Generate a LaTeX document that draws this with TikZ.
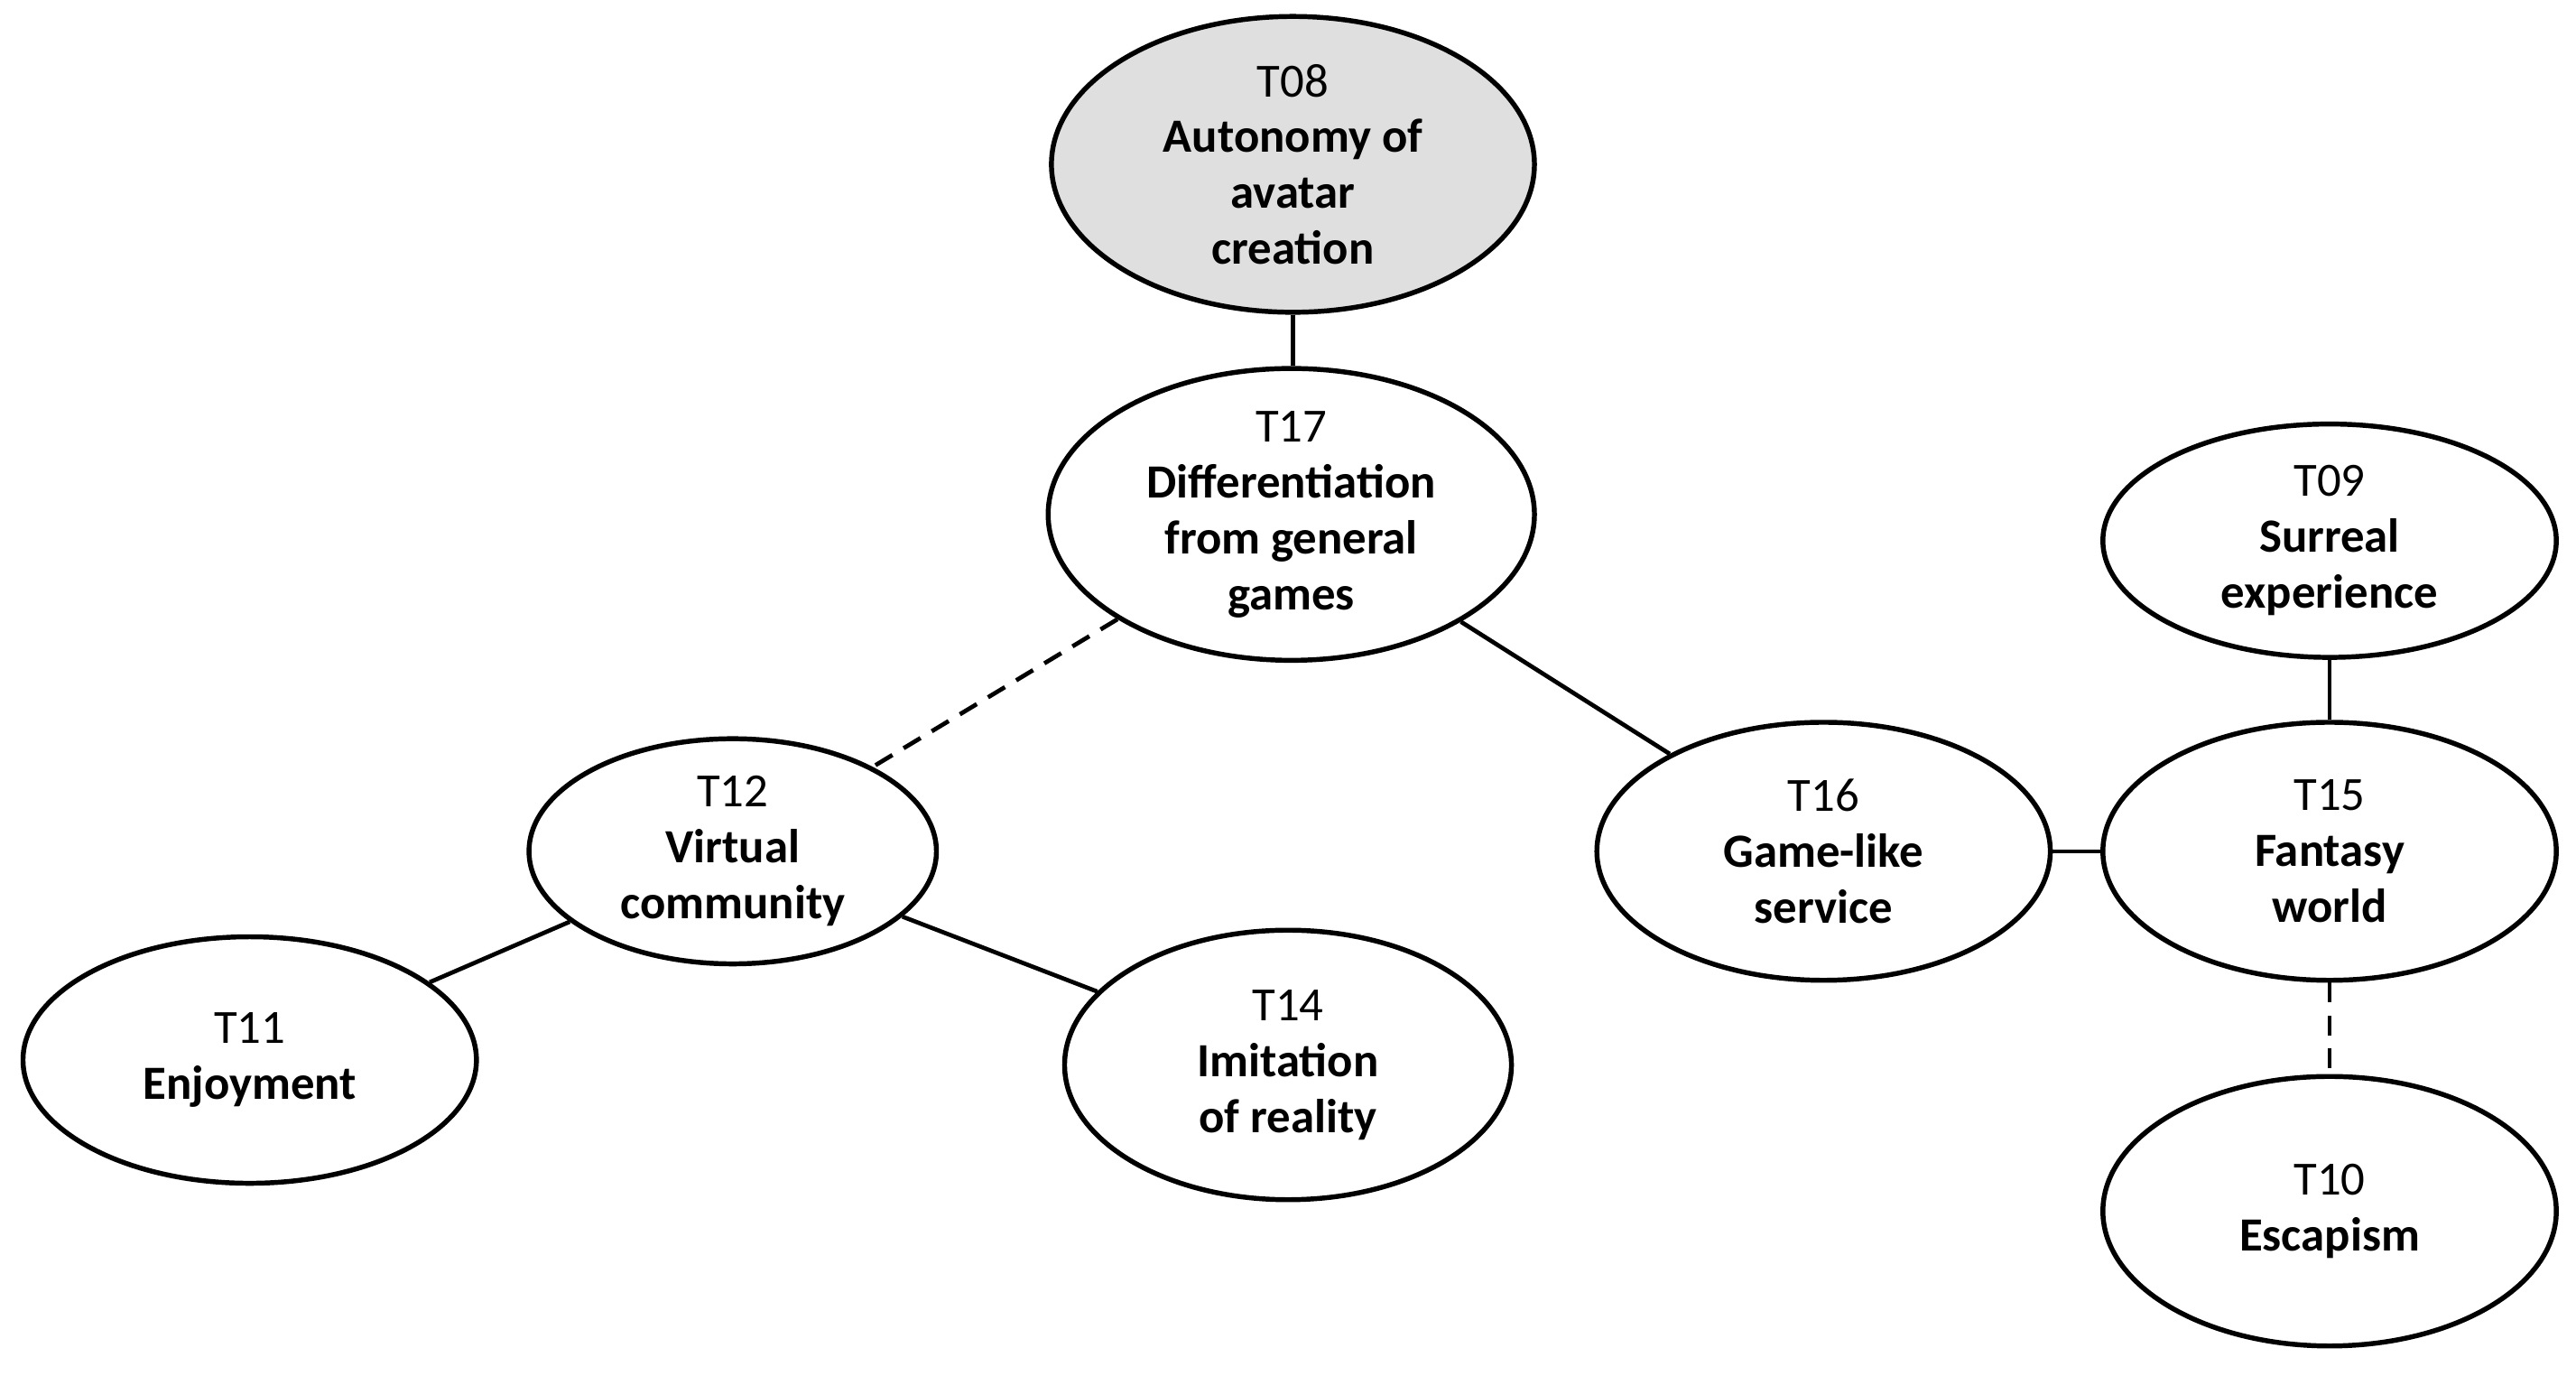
\documentclass[tikz,border=0pt]{standalone}
\usepackage{fontspec}
\setmainfont{Carlito}
\usetikzlibrary{shapes.geometric}
\begin{document}
\begin{tikzpicture}[x=0.5pt,y=-0.5pt,
  el/.style={ellipse,draw,line width=1.5pt,inner sep=0pt,align=center,font=\fontsize{14.5}{17}\selectfont},
  ln/.style={line width=1.3pt},
  dl/.style={ln,dash pattern=on 6pt off 4pt}]
\useasboundingbox (0,0) rectangle (1568,837);
\node[el,fill=gray!25,minimum width=147pt,minimum height=90pt] (t08) at (787,100) {T08\\\textbf{Autonomy of}\\\textbf{avatar}\\\textbf{creation}};
\node[el,minimum width=148pt,minimum height=69pt] (t17) at (786,313) {T17\\\textbf{Differentiation}\\\textbf{from general}\\\textbf{games}};
\node[el,minimum width=124pt,minimum height=68.5pt] (t12) at (446,518) {T12\\\textbf{Virtual}\\\textbf{community}};
\node[el,minimum width=138pt,minimum height=75pt] (t11) at (152,645) {T11\\\textbf{Enjoyment}};
\node[el,minimum width=136pt,minimum height=82pt] (t14) at (784,648) {T14\\\textbf{Imitation}\\\textbf{of reality}};
\node[el,minimum width=138pt,minimum height=78.5pt] (t16) at (1110,518) {T16\\\textbf{Game-like}\\\textbf{service}};
\node[el,minimum width=138pt,minimum height=78.5pt] (t15) at (1418,518) {T15\\\textbf{Fantasy}\\\textbf{world}};
\node[el,minimum width=138pt,minimum height=71pt] (t09) at (1418,329) {T09\\\textbf{Surreal}\\\textbf{experience}};
\node[el,minimum width=138pt,minimum height=82pt] (t10) at (1418,737) {T10\\\textbf{Escapism}};
\draw[ln] (t08) -- (t08 |- t17.north);
\draw[dl] (t17) -- (t12);
\draw[ln] (t17) -- (t16);
\draw[ln] (t12) -- (t11);
\draw[ln] (t12) -- (t14);
\draw[ln] (t16) -- (t15);
\draw[ln] (t15) -- (t09);
\draw[dl] (t15) -- (t10);
\end{tikzpicture}
\end{document}
